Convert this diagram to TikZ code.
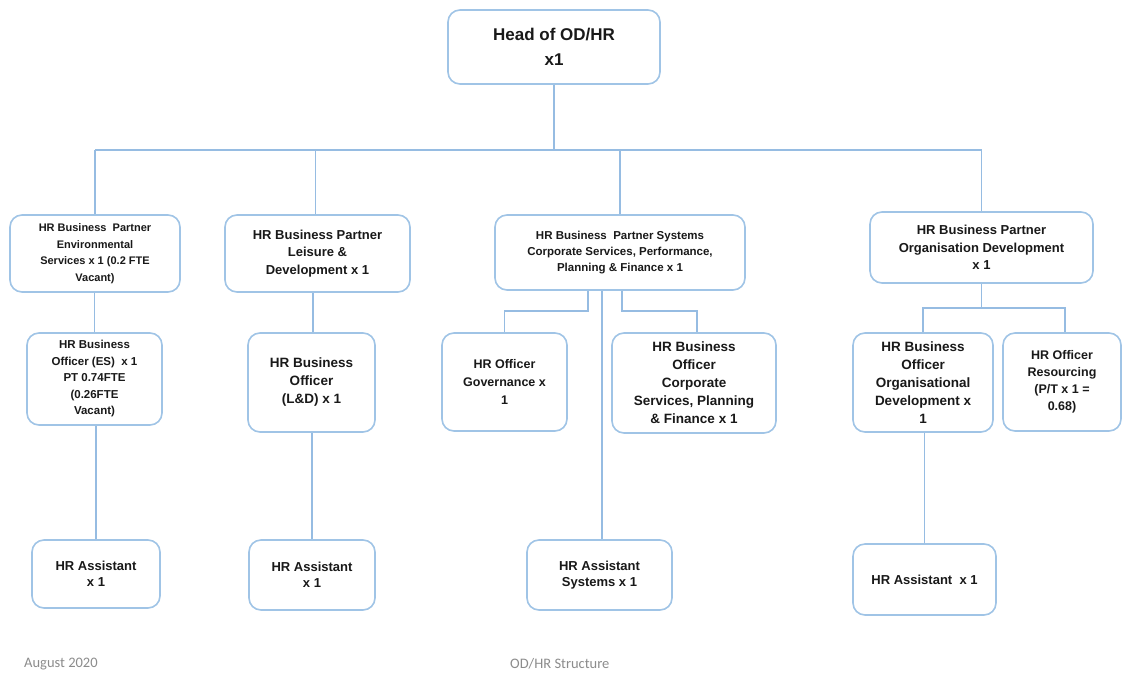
\documentclass[tikz,border=0pt]{standalone}
\usepackage{fontspec}
\setmainfont{Liberation Sans}
\newfontfamily\footfont{Carlito}
\definecolor{boxc}{RGB}{160,196,230}
\definecolor{linec}{RGB}{150,188,226}
\definecolor{txtc}{RGB}{25,25,25}
\definecolor{footc}{RGB}{140,140,140}
\begin{document}
\begin{tikzpicture}[x=1pt,y=-1pt,
  box/.style={draw=boxc,line width=1.6pt,rounded corners=12pt,fill=white,
    inner sep=2pt,align=center,text=txtc,font=\bfseries\fontsize{13}{16.5}\selectfont},
  smallbox/.style={box,font=\bfseries\fontsize{11}{16.5}\selectfont},
  conn/.style={draw=linec,line width=1.8pt},
  foot/.style={text=footc,font=\footfont\fontsize{14.5}{16}\selectfont,inner sep=0pt}]
\useasboundingbox (0,0) rectangle (1123,675);
\fill[white] (0,0) rectangle (1123,675);
% nodes
\node[box,minimum width=212pt,minimum height=74pt,font=\bfseries\fontsize{17}{25}\selectfont] (head) at (554,47) {Head of OD/HR\\x1};
\node[smallbox,minimum width=170pt,minimum height=77pt] (b1) at (95,253.5) {HR Business\ \ Partner\\Environmental\\Services x 1 (0.2 FTE\\Vacant)};
\node[box,minimum width=185pt,minimum height=77pt,font=\bfseries\fontsize{13}{17.5}\selectfont] (b2) at (317.5,253.5) {HR Business Partner\\Leisure \&\\Development x 1};
\node[smallbox,minimum width=250pt,minimum height=75pt,font=\bfseries\fontsize{11.5}{16}\selectfont] (b3) at (620,252.5) {HR Business\ \ Partner Systems\\Corporate Services, Performance,\\Planning \& Finance x 1};
\node[box,minimum width=223pt,minimum height=71pt,font=\bfseries\fontsize{13}{17.5}\selectfont] (b4) at (981.5,247.5) {HR Business Partner\\Organisation Development\\x 1};
\node[smallbox,minimum width=135pt,minimum height=92pt,font=\bfseries\fontsize{11.5}{16.5}\selectfont] (b1b) at (94.5,379) {HR Business\\Officer (ES)\ \ x 1\\PT 0.74FTE\\(0.26FTE\\Vacant)};
\node[box,minimum width=127pt,minimum height=99pt,font=\bfseries\fontsize{13.5}{18}\selectfont] (b2b) at (311.5,382.5) {HR Business\\Officer\\(L\&D) x 1};
\node[box,minimum width=125pt,minimum height=98pt,font=\bfseries\fontsize{12.5}{18}\selectfont] (gov) at (504.5,382) {HR Officer\\Governance x\\1};
\node[box,minimum width=164pt,minimum height=100pt,font=\bfseries\fontsize{13.5}{18}\selectfont] (corp) at (694,383) {HR Business\\Officer\\Corporate\\Services, Planning\\\& Finance x 1};
\node[box,minimum width=140pt,minimum height=99pt,font=\bfseries\fontsize{13.5}{18}\selectfont] (od) at (923,382.5) {HR Business\\Officer\\Organisational\\Development x\\1};
\node[box,minimum width=118pt,minimum height=98pt,font=\bfseries\fontsize{12.5}{17}\selectfont] (res) at (1062,382) {HR Officer\\Resourcing\\(P/T x 1 =\\0.68)};
\node[box,minimum width=128pt,minimum height=68pt] (a1) at (96,574) {HR Assistant\\x 1};
\node[box,minimum width=126pt,minimum height=70pt] (a2) at (312,575) {HR Assistant\\x 1};
\node[box,minimum width=145pt,minimum height=70pt] (sys) at (599.5,575) {HR Assistant\\Systems x 1};
\node[box,minimum width=143pt,minimum height=71pt] (a4) at (924.5,579.5) {HR Assistant\ \ x 1};
\node[foot,anchor=west] (f1) at (24,664) {August 2020};
\node[foot,anchor=west] (f2) at (510,664) {OD/HR Structure};
% connectors
\coordinate (busL) at (95,150);
\coordinate (busR) at (981.5,150);
\coordinate (k3) at (0,311);
\coordinate (k4) at (0,308);
\draw[conn] (busL) -- (busR);
\draw[conn] (head.south) -- (head.south |- busL);
\draw[conn] (b1.north) -- (b1.north |- busL);
\draw[conn] ([xshift=-2pt]b2.north) -- ([xshift=-2pt]b2.north |- busL);
\draw[conn] (b3.north) -- (b3.north |- busL);
\draw[conn] (b4.north) -- (b4.north |- busL);
\draw[conn] (b1b.north) -- (b1b.north |- b1.south);
\draw[conn] ([xshift=1.5pt]b2b.north) -- ([xshift=1.5pt]b2b.north |- b2.south);
\draw[conn] (a1.north) -- (a1.north |- b1b.south);
\draw[conn] (a2.north) -- (a2.north |- b2b.south);
\draw[conn] ([xshift=-32pt]b3.south) |- (gov.north |- k3) -- (gov.north);
\draw[conn] ([xshift=2pt]b3.south) |- ([xshift=3pt]corp.north |- k3) -- ([xshift=3pt]corp.north);
\draw[conn] ([xshift=2.5pt]sys.north) -- ([xshift=2.5pt]sys.north |- b3.south);
\draw[conn] (b4.south) -- (b4.south |- k4);
\draw[conn] (od.north) |- ([xshift=3pt]res.north |- k4) -- ([xshift=3pt]res.north);
\draw[conn] (a4.north) -- (a4.north |- od.south);
\end{tikzpicture}
\end{document}
